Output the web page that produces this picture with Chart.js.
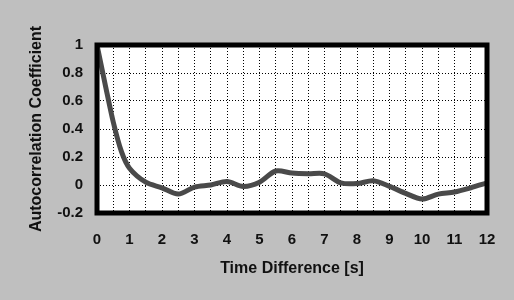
<!DOCTYPE html>
<html lang="en">

<head>
    <meta charset="UTF-8">
    <script src="https://cdn.jsdelivr.net/npm/chart.js"></script>
    <title>Autocorrelation</title>
    <style>
        body { margin: 0; background: #bfbfbf; }
    </style>
</head>

<body>
    <canvas id="chart-acf" width="514" height="300"></canvas>
</body>

</html>

<script>
    // valores
    const tempos = [0, 0.25, 0.5, 0.75, 1, 1.5, 2, 2.5, 3, 3.5, 4, 4.5, 5, 5.5, 6, 6.5, 7, 7.5, 8, 8.5, 9, 9.5, 10, 10.5, 11, 11.5, 12];
    const coeficientes = [1.0, 0.72, 0.45, 0.24, 0.12, 0.02, -0.02, -0.065, -0.015, 0.0, 0.025, -0.01, 0.02, 0.1, 0.085, 0.08, 0.08, 0.015, 0.01, 0.03, -0.01, -0.06, -0.1, -0.065, -0.05, -0.02, 0.015];
    const ticksX = [0, 1, 2, 3, 4, 5, 6, 7, 8, 9, 10, 11, 12];
    const ticksY = [-0.2, 0, 0.2, 0.4, 0.6, 0.8, 1];

    const pontos = tempos.map((t, i) => ({ x: t, y: coeficientes[i] }));

    const fundo = {
        id: 'fundo',
        beforeDraw(chart) {
            const c = chart.ctx;
            c.save();
            c.fillStyle = '#bfbfbf';
            c.fillRect(0, 0, chart.width, chart.height);
            const a = chart.chartArea;
            c.fillStyle = '#ffffff';
            c.fillRect(a.left, a.top, a.right - a.left, a.bottom - a.top);
            c.restore();
        },
        afterDraw(chart) {
            const c = chart.ctx;
            const a = chart.chartArea;
            c.save();
            c.strokeStyle = '#000';
            c.lineWidth = 5;
            c.strokeRect(a.left, a.top, a.right - a.left, a.bottom - a.top);
            c.restore();
        }
    };

    const ctxAcf = document.getElementById('chart-acf');

    new Chart(ctxAcf, {
        type: 'line',
        data: {
            datasets: [{
                label: 'Autocorrelation Coefficient',
                data: pontos,
                borderColor: '#4a4a4a',
                borderWidth: 5,
                pointRadius: 0,
                tension: 0.3,
                fill: false
            }]
        },
        plugins: [fundo],
        options: {
            responsive: false,
            animation: false,
            devicePixelRatio: 1,
            layout: {
                padding: { left: 27, right: 27, top: 45, bottom: 22 }
            },
            plugins: {
                legend: { display: false },
                tooltip: { enabled: false }
            },
            scales: {
                x: {
                    type: 'linear',
                    min: 0,
                    max: 12,
                    afterBuildTicks(scale) {
                        const t = [];
                        for (let i = 0; i <= 24; i++) t.push({ value: i / 2 });
                        scale.ticks = t;
                    },
                    afterFit(scale) {
                        scale.height = 65;
                    },
                    border: { display: false, dash: [1, 2] },
                    grid: {
                        color: '#000',
                        lineWidth: 1,
                        drawTicks: false
                    },
                    ticks: {
                        autoSkip: false,
                        maxRotation: 0,
                        padding: 18,
                        color: '#111',
                        font: { family: 'Liberation Sans', size: 15, weight: 'bold' },
                        callback: (v) => ticksX.includes(v) ? String(v) : ''
                    },
                    title: {
                        display: true,
                        text: 'Time Difference [s]',
                        color: '#111',
                        padding: 0,
                        font: { family: 'Liberation Sans', size: 16, weight: 'bold' }
                    }
                },
                y: {
                    min: -0.2,
                    max: 1,
                    afterBuildTicks(scale) {
                        scale.ticks = ticksY.map(v => ({ value: v }));
                    },
                    afterFit(scale) {
                        scale.width = 70;
                    },
                    border: { display: false, dash: [1, 2] },
                    grid: {
                        color: '#000',
                        lineWidth: 1,
                        drawTicks: false
                    },
                    ticks: {
                        padding: 14,
                        color: '#111',
                        font: { family: 'Liberation Sans', size: 15, weight: 'bold' },
                        callback: (v) => String(Math.round(v * 10) / 10)
                    },
                    title: {
                        display: true,
                        text: 'Autocorrelation Coefficient',
                        color: '#111',
                        padding: 0,
                        font: { family: 'Liberation Sans', size: 16, weight: 'bold' }
                    }
                }
            }
        }
    });
</script>
